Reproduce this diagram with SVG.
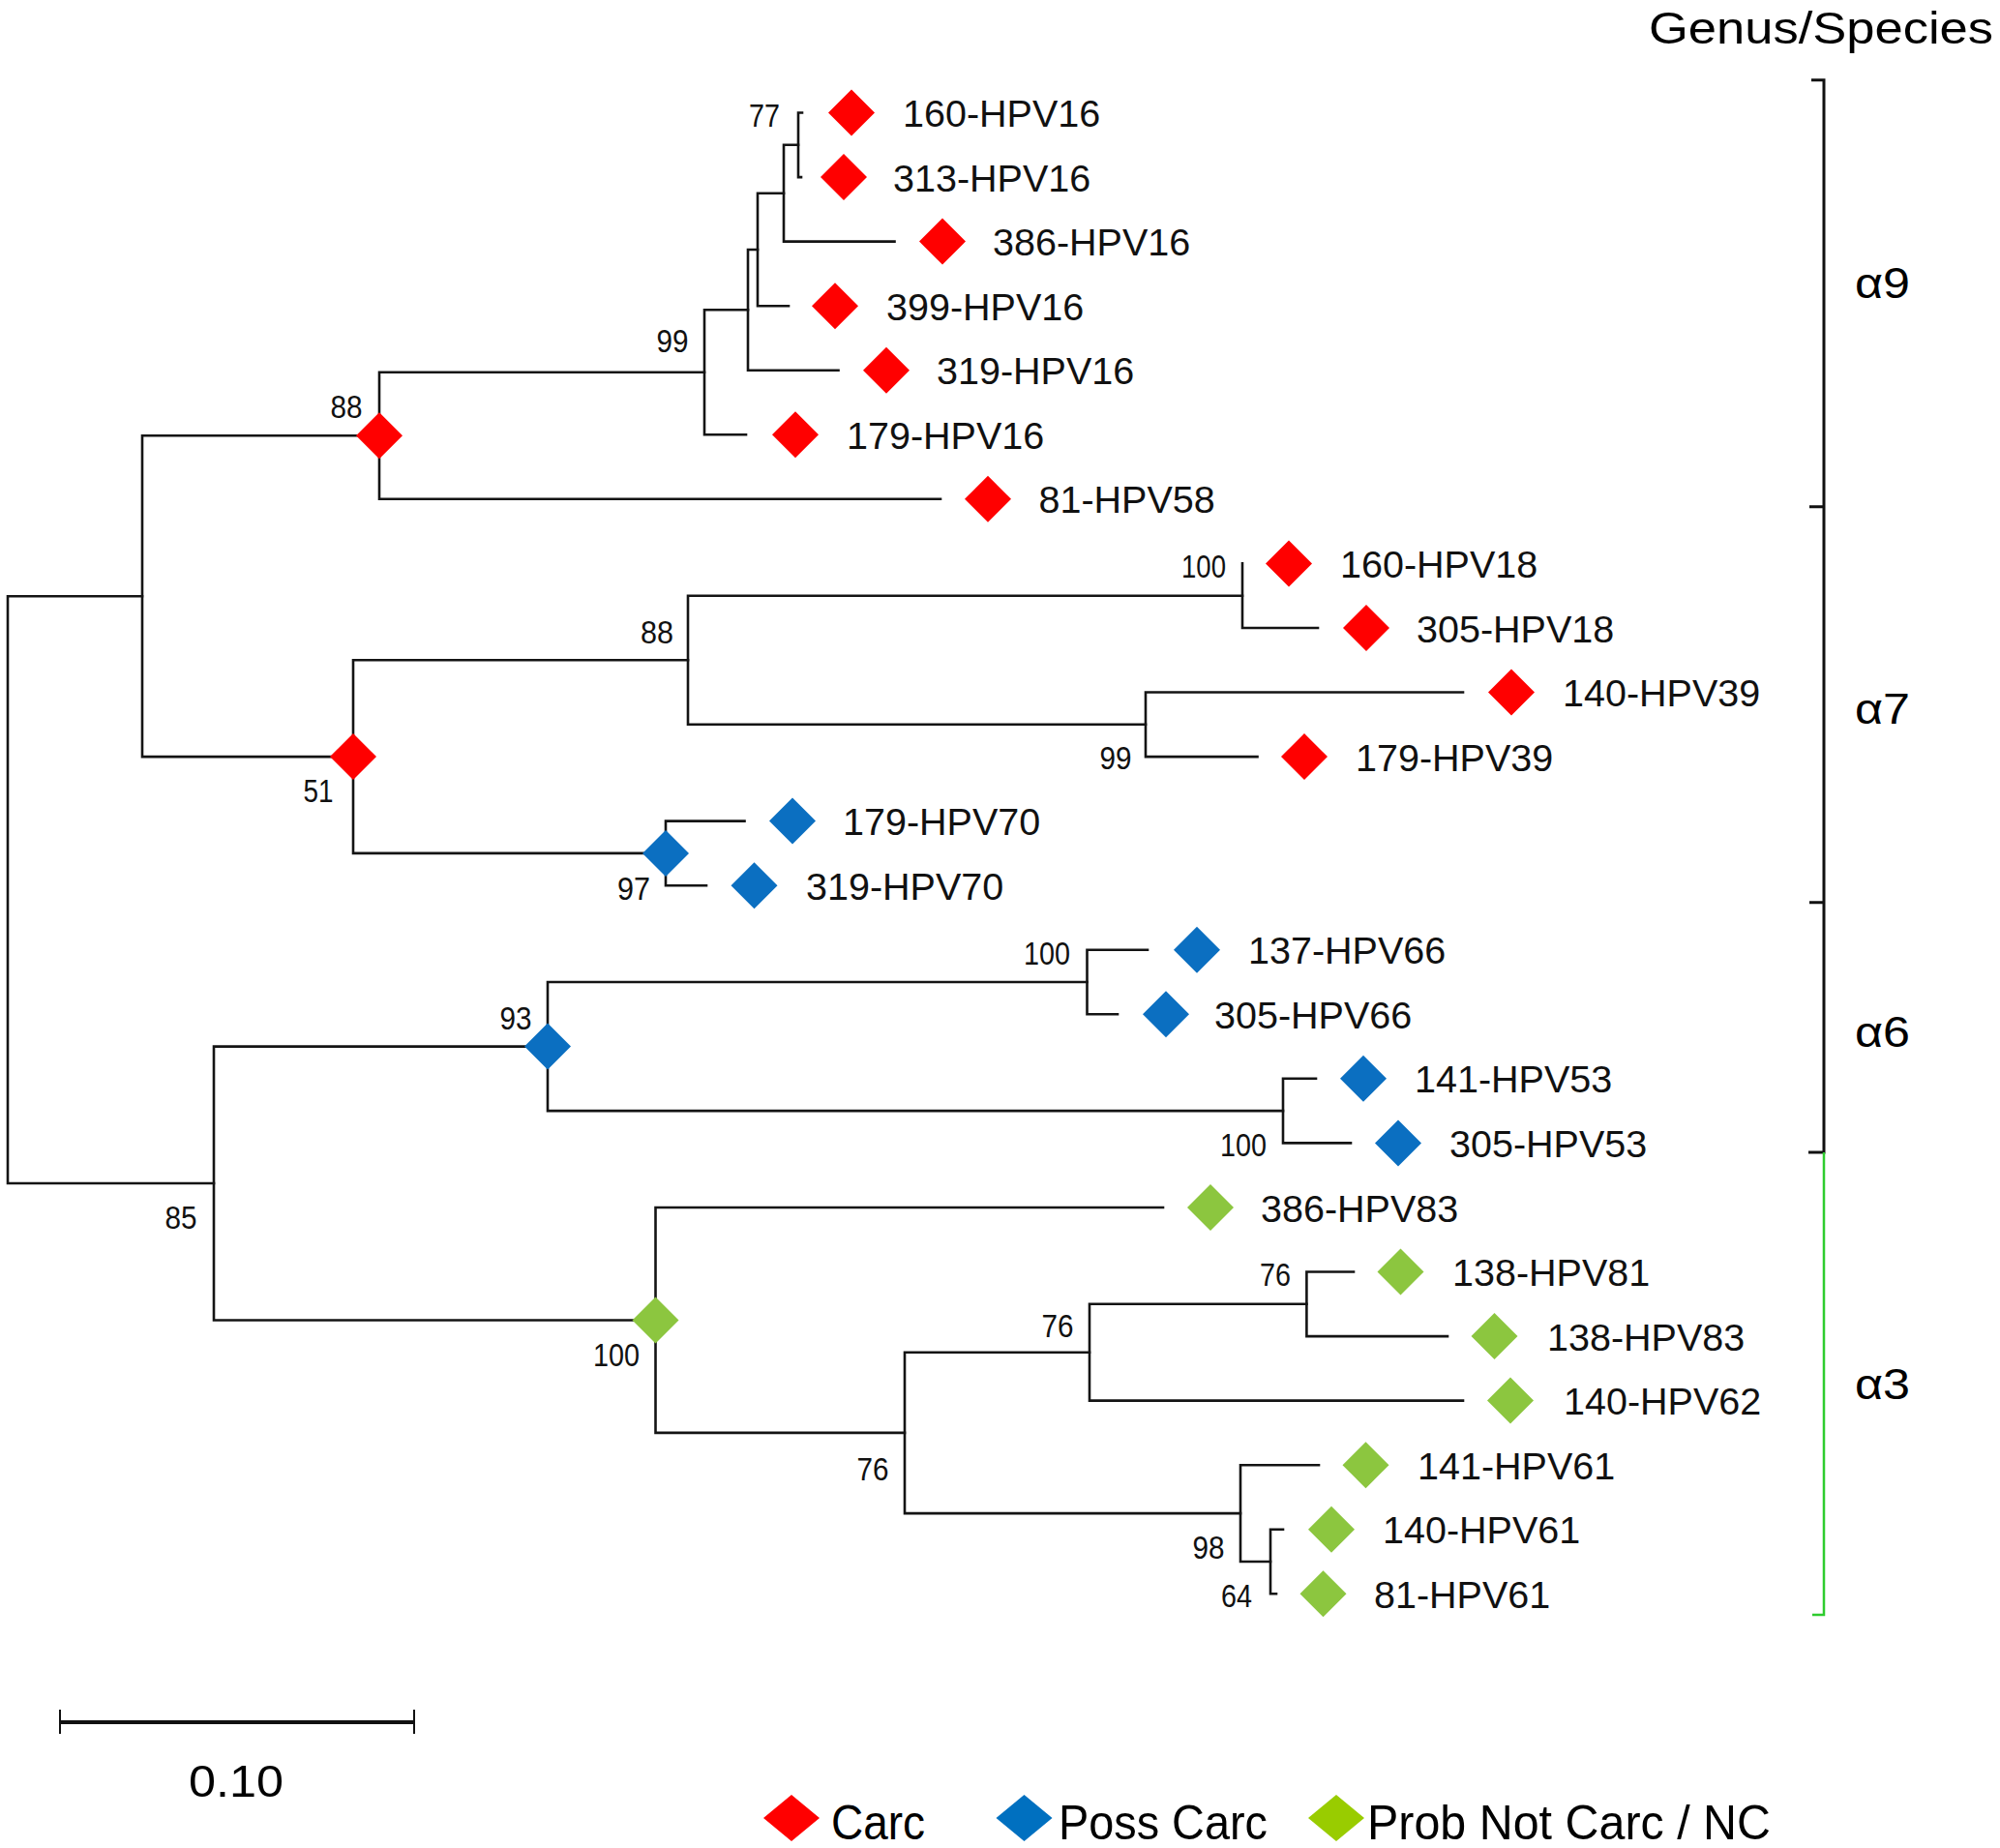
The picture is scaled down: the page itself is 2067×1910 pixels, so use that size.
<svg xmlns="http://www.w3.org/2000/svg" width="2067" height="1910" viewBox="0 0 2067 1910">
<style>
.ln{fill:none;stroke:#141414;stroke-width:2.6;stroke-linecap:square}
.lab{font-family:"Liberation Sans",Arial,sans-serif;font-size:39.5px;fill:#111}
.bs{font-family:"Liberation Sans",Arial,sans-serif;font-size:33px;fill:#111;text-anchor:middle}
.cal{font-family:"Liberation Sans",Arial,sans-serif;fill:#000}
.r{fill:#ff0000}.b{fill:#0b6fc1}.g{fill:#8cc63f}
</style>
<defs>
<path id="dm" d="M0,-24 L24,0 L0,24 L-24,0 Z"/>
<path id="ld" d="M0,-24 L29,0 L0,24 L-29,0 Z"/>
</defs>
<rect width="2067" height="1910" fill="#fff"/>

<g id="connectors" class="ln">
<path d="M825,116.5 V183.1 M825,116.5 H829 M825,183.1 H828"/>
<path d="M810,149.8 V249.6 M810,149.8 H825 M810,249.6 H924.5"/>
<path d="M783,199.7 V316.2 M783,199.7 H810 M783,316.2 H815"/>
<path d="M773,258 V382.7 M773,258 H783 M773,382.7 H866.5"/>
<path d="M728,320.3 V449.3 M728,320.3 H773 M728,449.3 H771"/>
<path d="M392,384.8 V515.8 M392,384.8 H728 M392,515.8 H972"/>
<path d="M1284,582.4 V649 M1284,649 H1362"/>
<path d="M1184,715.5 V782.1 M1184,715.5 H1512 M1184,782.1 H1299.5"/>
<path d="M711,615.7 V748.8 M711,615.7 H1284 M711,748.8 H1184"/>
<path d="M688,848.6 V915.2 M688,848.6 H769.5 M688,915.2 H730"/>
<path d="M365,682.3 V881.9 M365,682.3 H711 M365,881.9 H688"/>
<path d="M147,450.3 V782.1 M147,450.3 H392 M147,782.1 H365"/>
<path d="M1123.5,981.7 V1048.3 M1123.5,981.7 H1186 M1123.5,1048.3 H1155"/>
<path d="M1326,1114.8 V1181.4 M1326,1114.8 H1360 M1326,1181.4 H1396"/>
<path d="M566,1015 V1148.1 M566,1015 H1123.5 M566,1148.1 H1326"/>
<path d="M1350.4,1314.5 V1381.1 M1350.4,1314.5 H1399 M1350.4,1381.1 H1496"/>
<path d="M1126,1347.8 V1447.6 M1126,1347.8 H1350.4 M1126,1447.6 H1512"/>
<path d="M1313,1580.7 V1647.3 M1313,1580.7 H1326 M1313,1647.3 H1319"/>
<path d="M1282,1514.2 V1614 M1282,1514.2 H1363 M1282,1614 H1313"/>
<path d="M935,1397.7 V1564.1 M935,1397.7 H1126 M935,1564.1 H1282"/>
<path d="M677.5,1248 V1480.9 M677.5,1248 H1202 M677.5,1480.9 H935"/>
<path d="M221,1081.6 V1364.5 M221,1081.6 H566 M221,1364.5 H677.5"/>
<path d="M8,616.2 V1223 M8,616.2 H147 M8,1223 H221"/>
</g>

<g id="internal-nodes">
<g id="n77"><text class="bs" x="790" y="131" textLength="32" lengthAdjust="spacingAndGlyphs">77</text></g>
<g id="n99a"><text class="bs" x="695" y="364" textLength="33" lengthAdjust="spacingAndGlyphs">99</text></g>
<g id="n88a"><use href="#dm" x="392" y="450.3" class="r"/><text class="bs" x="358" y="432" textLength="33" lengthAdjust="spacingAndGlyphs">88</text></g>
<g id="n100a"><text class="bs" x="1244" y="597" textLength="46" lengthAdjust="spacingAndGlyphs">100</text></g>
<g id="n88b"><text class="bs" x="679" y="665" textLength="34" lengthAdjust="spacingAndGlyphs">88</text></g>
<g id="n99b"><text class="bs" x="1153" y="795" textLength="33" lengthAdjust="spacingAndGlyphs">99</text></g>
<g id="n51"><use href="#dm" x="365" y="782.1" class="r"/><text class="bs" x="329" y="829" textLength="31" lengthAdjust="spacingAndGlyphs">51</text></g>
<g id="n97"><use href="#dm" x="688" y="881.9" class="b"/><text class="bs" x="655" y="930" textLength="34" lengthAdjust="spacingAndGlyphs">97</text></g>
<g id="n100b"><text class="bs" x="1082" y="997" textLength="48" lengthAdjust="spacingAndGlyphs">100</text></g>
<g id="n93"><use href="#dm" x="566" y="1081.6" class="b"/><text class="bs" x="533" y="1064" textLength="33" lengthAdjust="spacingAndGlyphs">93</text></g>
<g id="n100c"><text class="bs" x="1285" y="1195" textLength="48" lengthAdjust="spacingAndGlyphs">100</text></g>
<g id="n85"><text class="bs" x="187" y="1270" textLength="33" lengthAdjust="spacingAndGlyphs">85</text></g>
<g id="n100d"><use href="#dm" x="677.5" y="1364.5" class="g"/><text class="bs" x="637" y="1412" textLength="48" lengthAdjust="spacingAndGlyphs">100</text></g>
<g id="n76a"><text class="bs" x="1318" y="1329" textLength="32" lengthAdjust="spacingAndGlyphs">76</text></g>
<g id="n76b"><text class="bs" x="1093" y="1382" textLength="33" lengthAdjust="spacingAndGlyphs">76</text></g>
<g id="n76c"><text class="bs" x="902" y="1530" textLength="33" lengthAdjust="spacingAndGlyphs">76</text></g>
<g id="n98"><text class="bs" x="1249" y="1611" textLength="33" lengthAdjust="spacingAndGlyphs">98</text></g>
<g id="n64"><text class="bs" x="1278" y="1661" textLength="32" lengthAdjust="spacingAndGlyphs">64</text></g>
</g>

<g id="leaves">
<g id="l160-HPV16"><use href="#dm" x="880" y="116.5" class="r"/><text class="lab" x="933" y="131">160-HPV16</text></g>
<g id="l313-HPV16"><use href="#dm" x="872" y="183.1" class="r"/><text class="lab" x="923" y="197.6">313-HPV16</text></g>
<g id="l386-HPV16"><use href="#dm" x="974" y="249.6" class="r"/><text class="lab" x="1026" y="264.1">386-HPV16</text></g>
<g id="l399-HPV16"><use href="#dm" x="863" y="316.2" class="r"/><text class="lab" x="916" y="330.7">399-HPV16</text></g>
<g id="l319-HPV16"><use href="#dm" x="916" y="382.7" class="r"/><text class="lab" x="968" y="397.2">319-HPV16</text></g>
<g id="l179-HPV16"><use href="#dm" x="822" y="449.3" class="r"/><text class="lab" x="875" y="463.8">179-HPV16</text></g>
<g id="l81-HPV58"><use href="#dm" x="1021" y="515.8" class="r"/><text class="lab" x="1073.5" y="530.3">81-HPV58</text></g>
<g id="l160-HPV18"><use href="#dm" x="1332" y="582.4" class="r"/><text class="lab" x="1385" y="596.9">160-HPV18</text></g>
<g id="l305-HPV18"><use href="#dm" x="1412" y="649" class="r"/><text class="lab" x="1464" y="663.5">305-HPV18</text></g>
<g id="l140-HPV39"><use href="#dm" x="1562" y="715.5" class="r"/><text class="lab" x="1615" y="730">140-HPV39</text></g>
<g id="l179-HPV39"><use href="#dm" x="1348" y="782.1" class="r"/><text class="lab" x="1401" y="796.6">179-HPV39</text></g>
<g id="l179-HPV70"><use href="#dm" x="819" y="848.6" class="b"/><text class="lab" x="871" y="863.1">179-HPV70</text></g>
<g id="l319-HPV70"><use href="#dm" x="779.5" y="915.2" class="b"/><text class="lab" x="833" y="929.7">319-HPV70</text></g>
<g id="l137-HPV66"><use href="#dm" x="1237" y="981.7" class="b"/><text class="lab" x="1290" y="996.2">137-HPV66</text></g>
<g id="l305-HPV66"><use href="#dm" x="1205" y="1048.3" class="b"/><text class="lab" x="1255" y="1062.8">305-HPV66</text></g>
<g id="l141-HPV53"><use href="#dm" x="1409" y="1114.8" class="b"/><text class="lab" x="1462" y="1129.3">141-HPV53</text></g>
<g id="l305-HPV53"><use href="#dm" x="1445" y="1181.4" class="b"/><text class="lab" x="1498" y="1195.9">305-HPV53</text></g>
<g id="l386-HPV83"><use href="#dm" x="1251" y="1248" class="g"/><text class="lab" x="1303" y="1262.5">386-HPV83</text></g>
<g id="l138-HPV81"><use href="#dm" x="1447.5" y="1314.5" class="g"/><text class="lab" x="1501" y="1329">138-HPV81</text></g>
<g id="l138-HPV83"><use href="#dm" x="1544.5" y="1381.1" class="g"/><text class="lab" x="1599" y="1395.6">138-HPV83</text></g>
<g id="l140-HPV62"><use href="#dm" x="1561" y="1447.6" class="g"/><text class="lab" x="1616" y="1462.1">140-HPV62</text></g>
<g id="l141-HPV61"><use href="#dm" x="1411.5" y="1514.2" class="g"/><text class="lab" x="1465" y="1528.7">141-HPV61</text></g>
<g id="l140-HPV61"><use href="#dm" x="1376" y="1580.7" class="g"/><text class="lab" x="1429" y="1595.2">140-HPV61</text></g>
<g id="l81-HPV61"><use href="#dm" x="1367.5" y="1647.3" class="g"/><text class="lab" x="1420" y="1661.8">81-HPV61</text></g>
</g>

<g id="brackets">
<text class="cal" x="1704" y="45" font-size="46" textLength="356" lengthAdjust="spacingAndGlyphs">Genus/Species</text>
<path d="M1872,82.7 H1885 V1191 H1869 M1870,523.7 H1885 M1870,932.8 H1885" fill="none" stroke="#111" stroke-width="3"/>
<path d="M1885,1191 V1669 H1873" fill="none" stroke="#2ecc2e" stroke-width="2.5"/>
<text class="cal" x="1917" y="308" font-size="45" textLength="57" lengthAdjust="spacingAndGlyphs">α9</text>
<text class="cal" x="1917" y="748" font-size="45" textLength="57" lengthAdjust="spacingAndGlyphs">α7</text>
<text class="cal" x="1917" y="1082" font-size="45" textLength="57" lengthAdjust="spacingAndGlyphs">α6</text>
<text class="cal" x="1917" y="1446" font-size="45" textLength="57" lengthAdjust="spacingAndGlyphs">α3</text>
</g>

<g id="scale-bar">
<path d="M62,1780 H428" stroke="#111" stroke-width="4" fill="none"/>
<path d="M62,1767 V1792 M428,1767 V1792" stroke="#111" stroke-width="2" fill="none"/>
<text class="cal" x="195" y="1857" font-size="47" textLength="98" lengthAdjust="spacingAndGlyphs">0.10</text>
</g>

<g id="legend">
<g id="leg-carc"><use href="#ld" x="818" y="1879" fill="#ff0000"/><text class="cal" x="859" y="1901" font-size="50" textLength="97" lengthAdjust="spacingAndGlyphs">Carc</text></g>
<g id="leg-poss"><use href="#ld" x="1058.5" y="1879" fill="#0070c0"/><text class="cal" x="1094" y="1901" font-size="50" textLength="216" lengthAdjust="spacingAndGlyphs">Poss Carc</text></g>
<g id="leg-nc"><use href="#ld" x="1381" y="1879" fill="#99cc00"/><text class="cal" x="1413" y="1901" font-size="50" textLength="417" lengthAdjust="spacingAndGlyphs">Prob Not Carc / NC</text></g>
</g>
</svg>
